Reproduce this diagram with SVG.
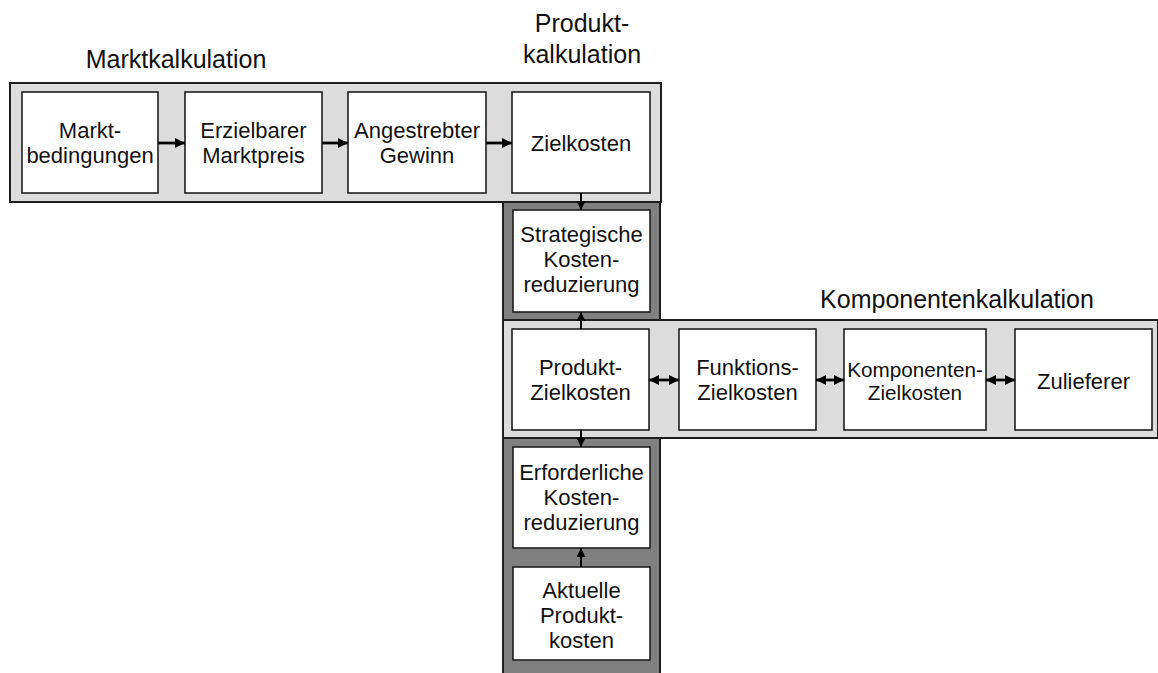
<svg xmlns="http://www.w3.org/2000/svg" width="1158" height="673" viewBox="0 0 1158 673">
  <style>
    .band-light { fill: #dcdcdc; stroke: #1e1e1e; stroke-width: 2; }
    .band-dark { fill: #808080; stroke: #1e1e1e; stroke-width: 2; }
    .box { fill: #ffffff; stroke: #1e1e1e; stroke-width: 1.6; }
    .lbl { font-family: "Liberation Sans", Arial, sans-serif; font-size: 22px; fill: #111; text-anchor: middle; }
    .lbl-s { font-family: "Liberation Sans", Arial, sans-serif; font-size: 20.7px; fill: #111; text-anchor: middle; }
    .title { font-family: "Liberation Sans", Arial, sans-serif; font-size: 25px; fill: #111; text-anchor: middle; }
    .conn { stroke: #000; fill: none; }
    .h { stroke-width: 2.8; }
    .v { stroke-width: 2; }
  </style>
  <defs>
    <marker id="head" markerUnits="userSpaceOnUse" markerWidth="11" markerHeight="12" refX="10" refY="6" orient="auto-start-reverse">
      <path d="M0,1 L10,6 L0,11 Z" fill="#000"/>
    </marker>
    <marker id="headS" markerUnits="userSpaceOnUse" markerWidth="10" markerHeight="10" refX="9" refY="5" orient="auto-start-reverse">
      <path d="M0,0.5 L9,5 L0,9.5 Z" fill="#000"/>
    </marker>
  </defs>

  <!-- background bands -->
  <g id="bands">
    <rect class="band-light" x="10" y="83" width="651" height="119"/>
    <rect class="band-dark" x="503" y="202" width="157" height="118"/>
    <rect class="band-light" x="503" y="320" width="655" height="118"/>
    <rect class="band-dark" x="503" y="438" width="157" height="245"/>
  </g>

  <!-- section titles -->
  <g id="titles">
    <text class="title" x="176" y="68">Marktkalkulation</text>
    <text class="title" x="582" y="32">Produkt-</text>
    <text class="title" x="582" y="63">kalkulation</text>
    <text class="title" x="957" y="308">Komponentenkalkulation</text>
  </g>

  <!-- market calculation row -->
  <g id="marktbedingungen">
    <rect class="box" x="22" y="92" width="136" height="101"/>
    <text class="lbl" x="90" y="138">Markt-</text>
    <text class="lbl" x="90" y="163">bedingungen</text>
  </g>
  <g id="marktpreis">
    <rect class="box" x="185" y="92" width="137" height="101"/>
    <text class="lbl" x="253.5" y="138">Erzielbarer</text>
    <text class="lbl" x="253.5" y="163">Marktpreis</text>
  </g>
  <g id="gewinn">
    <rect class="box" x="348" y="92" width="138" height="101"/>
    <text class="lbl" x="417" y="138">Angestrebter</text>
    <text class="lbl" x="417" y="163">Gewinn</text>
  </g>
  <g id="zielkosten">
    <rect class="box" x="512" y="92" width="138" height="101"/>
    <text class="lbl" x="581" y="151">Zielkosten</text>
  </g>

  <!-- product column -->
  <g id="strategische-reduzierung">
    <rect class="box" x="513" y="210" width="137" height="102"/>
    <text class="lbl" x="581.5" y="242">Strategische</text>
    <text class="lbl" x="581.5" y="267">Kosten-</text>
    <text class="lbl" x="581.5" y="292">reduzierung</text>
  </g>
  <g id="erforderliche-reduzierung">
    <rect class="box" x="513" y="447" width="137" height="101"/>
    <text class="lbl" x="581.5" y="480">Erforderliche</text>
    <text class="lbl" x="581.5" y="505">Kosten-</text>
    <text class="lbl" x="581.5" y="530">reduzierung</text>
  </g>
  <g id="aktuelle-kosten">
    <rect class="box" x="513" y="567" width="137" height="93"/>
    <text class="lbl" x="581.5" y="598">Aktuelle</text>
    <text class="lbl" x="581.5" y="623">Produkt-</text>
    <text class="lbl" x="581.5" y="648">kosten</text>
  </g>

  <!-- component calculation row -->
  <g id="produkt-zielkosten">
    <rect class="box" x="512" y="329" width="137" height="101"/>
    <text class="lbl" x="580.5" y="375">Produkt-</text>
    <text class="lbl" x="580.5" y="400">Zielkosten</text>
  </g>
  <g id="funktions-zielkosten">
    <rect class="box" x="679" y="329" width="137" height="101"/>
    <text class="lbl" x="747.5" y="375">Funktions-</text>
    <text class="lbl" x="747.5" y="400">Zielkosten</text>
  </g>
  <g id="komponenten-zielkosten">
    <rect class="box" x="844" y="329" width="142" height="101"/>
    <text class="lbl-s" x="915" y="377">Komponenten-</text>
    <text class="lbl-s" x="915" y="400">Zielkosten</text>
  </g>
  <g id="zulieferer">
    <rect class="box" x="1015" y="329" width="137" height="101"/>
    <text class="lbl" x="1083.5" y="389">Zulieferer</text>
  </g>

  <!-- connectors -->
  <g id="connectors">
    <line class="conn h" x1="158" y1="143" x2="185" y2="143" marker-end="url(#head)"/>
    <line class="conn h" x1="322" y1="143" x2="348" y2="143" marker-end="url(#head)"/>
    <line class="conn h" x1="486" y1="143" x2="512" y2="143" marker-end="url(#head)"/>

    <line class="conn v" x1="581" y1="193" x2="581" y2="210" marker-end="url(#headS)"/>
    <line class="conn v" x1="581" y1="329" x2="581" y2="312" marker-end="url(#headS)"/>
    <line class="conn v" x1="581" y1="430" x2="581" y2="447" marker-end="url(#headS)"/>
    <line class="conn v" x1="581" y1="567" x2="581" y2="548" marker-end="url(#headS)"/>

    <line class="conn h" x1="649" y1="380" x2="679" y2="380" marker-start="url(#head)" marker-end="url(#head)"/>
    <line class="conn h" x1="816" y1="380" x2="844" y2="380" marker-start="url(#head)" marker-end="url(#head)"/>
    <line class="conn h" x1="986" y1="380" x2="1015" y2="380" marker-start="url(#head)" marker-end="url(#head)"/>
  </g>
</svg>
